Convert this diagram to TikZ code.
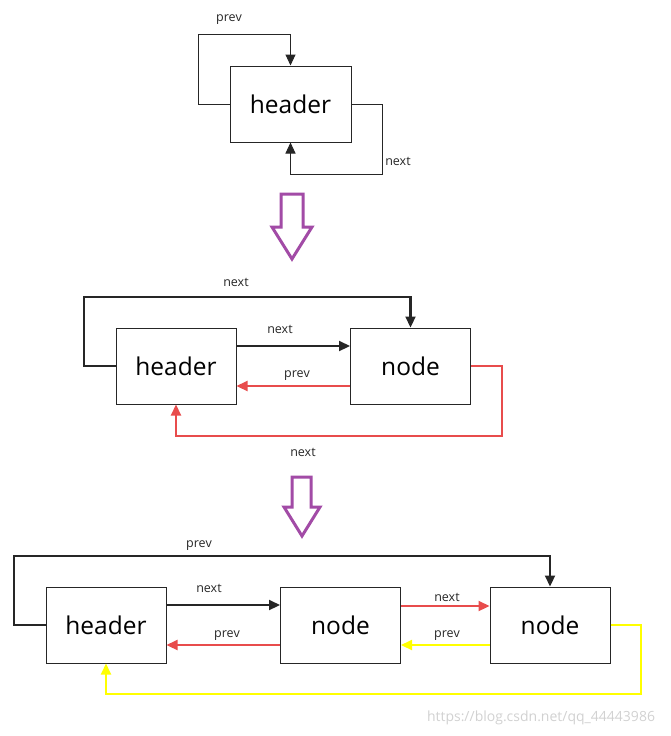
\documentclass[tikz,border=0pt]{standalone}
\usepackage{fontspec}
\setmainfont{Open Sans}
\usetikzlibrary{arrows.meta}
\definecolor{linkred}{HTML}{E84C4C}
\definecolor{linkyellow}{HTML}{FFFF00}
\definecolor{stepviolet}{HTML}{A24BA6}
\tikzset{
  listbox/.style={rectangle, draw=black!85, line width=1pt, minimum width=120pt, minimum height=76pt, font=\fontsize{24.5}{28}\selectfont},
  link/.style={line width=2.2pt, -{Triangle[length=11pt,width=10pt]}},
  lbl/.style={font=\fontsize{12.5}{14}\selectfont, text=black!85},
  bigdown/.style={draw=stepviolet, line width=3pt, fill=white, line join=miter}
}
\begin{document}
\begin{tikzpicture}[x=1pt, y=-1pt]
\useasboundingbox (0,0) rectangle (671,736);

% empty list
\node (head0) [listbox, minimum width=121pt] at (290.5,104) {header};
\draw [link, line width=1pt, black!85] (head0.west) -- (198,104) -- (198,34) -- (head0.north |- 0,34) -- (head0.north);
\draw [link, line width=1pt, black!85] (head0.east) -- (382,104) -- (382,174) -- (head0.south |- 0,174) -- (head0.south);
\node [lbl] at (229,20) {prev};
\node [lbl] at (398,161) {next};

\draw [bigdown] (281,194) -- (303,194) -- (303,227) -- (312,227) -- (292,259) -- (272,227) -- (281,227) -- cycle;

% one node
\node (head1) [listbox] at (176,366) {header};
\node (node1) [listbox] at (410.5,366) {node};
\draw [link, black!85] (head1.west) -- (84,366) -- (84,297) -- (node1.north |- 0,297) -- (node1.north);
\draw [link, black!85] (head1.east |- 0,346) -- (node1.west |- 0,346);
\draw [link, linkred] (node1.west |- 0,386) -- (head1.east |- 0,386);
\draw [link, linkred] (node1.east) -- (502,366) -- (502,436) -- (head1.south |- 0,436) -- (head1.south);
\node [lbl] at (236,282) {next};
\node [lbl] at (280,329) {next};
\node [lbl] at (297,376) {prev};
\node [lbl] at (303,452) {next};

\draw [bigdown] (292,477) -- (311,477) -- (311,507) -- (320,507) -- (302,536) -- (284,507) -- (292,507) -- cycle;

% two nodes
\node (head2) [listbox] at (106,625) {header};
\node (node2) [listbox] at (340.5,625) {node};
\node (node3) [listbox] at (550,625) {node};
\draw [link, black!85] (head2.west) -- (14,625) -- (14,556) -- (node3.north |- 0,556) -- (node3.north);
\draw [link, black!85] (head2.east |- 0,605) -- (node2.west |- 0,605);
\draw [link, linkred] (node2.west |- 0,645) -- (head2.east |- 0,645);
\draw [link, linkred] (node2.east |- 0,606) -- (node3.west |- 0,606);
\draw [link, linkyellow] (node3.west |- 0,645) -- (node2.east |- 0,645);
\draw [link, linkyellow] (node3.east) -- (641,625) -- (641,694) -- (head2.south |- 0,694) -- (head2.south);
\node [lbl] at (199,546) {prev};
\node [lbl] at (209,588) {next};
\node [lbl] at (227,636) {prev};
\node [lbl] at (447,597) {next};
\node [lbl] at (447,636) {prev};

\node (mark) [font=\fontsize{14}{16}\selectfont, text=black!18] at (541,718) {https://blog.csdn.net/qq\_44443986};
\end{tikzpicture}
\end{document}
